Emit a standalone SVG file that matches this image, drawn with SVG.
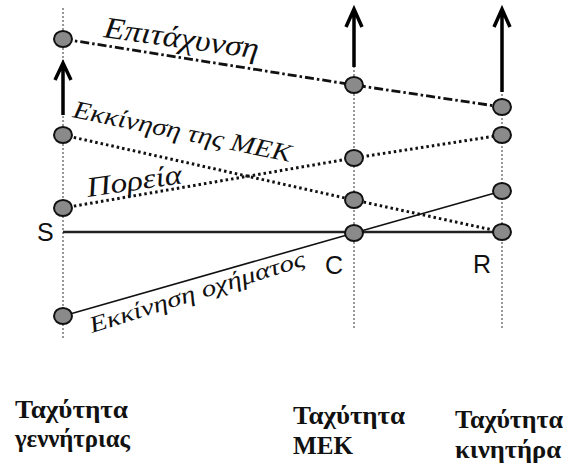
<svg xmlns="http://www.w3.org/2000/svg" width="568" height="466" viewBox="0 0 568 466">
<style>
.guide{stroke:#777;stroke-width:1.5;stroke-dasharray:2 2;fill:none}
.dashdot{stroke:#111;stroke-width:2.8;stroke-dasharray:9 3 2.5 3;fill:none}
.dotted{stroke:#111;stroke-width:3;stroke-dasharray:2.5 3;fill:none}
.solid{stroke:#111;stroke-width:1.6;fill:none}
.axis{stroke:#222;stroke-width:2.6;fill:none}
.arrow{stroke:#000;stroke-width:3.5;fill:none;stroke-linejoin:miter}
.node{fill:#8a8a8a;stroke:#111;stroke-width:2}
.lbl{font-family:"Liberation Serif","DejaVu Serif",serif;font-style:italic;fill:#111}
.let{font-family:"Liberation Sans",Arial,sans-serif;font-size:25px;fill:#111}
.cap{font-family:"Liberation Serif","DejaVu Serif",serif;font-weight:bold;font-size:25px;fill:#111}
</style>
<g id="guides">
<line class="guide" x1="63" y1="8" x2="63" y2="340"/>
<line class="guide" x1="354" y1="66" x2="354" y2="330"/>
<line class="guide" x1="502" y1="90" x2="502" y2="330"/>
</g>
<g id="connectors">
<polyline class="dashdot" points="63,39 354,85 502,107"/>
<polyline class="dotted" points="63,135 354,200 502,232"/>
<polyline class="dotted" points="63,208 354,158 502,135"/>
<line class="axis" x1="63" y1="232" x2="502" y2="232"/>
<polyline class="solid" points="63,316 354,233 502,191"/>
<path class="arrow" d="M63,115 V64 M55,80 L63,63 L71,80"/>
<path class="arrow" d="M354,67 V10 M346,27 L354,9 L362,27"/>
<path class="arrow" d="M502,92 V10 M494,27 L502,9 L510,27"/>
</g>
<g id="left-nodes">
<ellipse class="node" cx="63" cy="39" rx="9" ry="8"/>
<ellipse class="node" cx="63" cy="135" rx="9" ry="8"/>
<ellipse class="node" cx="63" cy="208" rx="9" ry="8"/>
<ellipse class="node" cx="63" cy="316" rx="9" ry="8"/>
</g>
<g id="mid-nodes">
<ellipse class="node" cx="354" cy="85" rx="9" ry="8"/>
<ellipse class="node" cx="354" cy="158" rx="9" ry="8"/>
<ellipse class="node" cx="354" cy="200" rx="9" ry="8"/>
<ellipse class="node" cx="354" cy="233" rx="9" ry="8"/>
</g>
<g id="right-nodes">
<ellipse class="node" cx="502" cy="107" rx="9" ry="8"/>
<ellipse class="node" cx="502" cy="135" rx="9" ry="8"/>
<ellipse class="node" cx="502" cy="191" rx="9" ry="8"/>
<ellipse class="node" cx="502" cy="232" rx="9" ry="8"/>
</g>
<g id="line-labels">
<text class="lbl" transform="translate(103,37) rotate(8)" font-size="30" textLength="156" lengthAdjust="spacingAndGlyphs">Επιτάχυνση</text>
<text class="lbl" transform="translate(72,117) rotate(11.7)" font-size="25" textLength="222" lengthAdjust="spacingAndGlyphs">Εκκίνηση  της ΜΕΚ</text>
<text class="lbl" transform="translate(88,197) rotate(-8.3)" font-size="28" textLength="96" lengthAdjust="spacingAndGlyphs">Πορεία</text>
<text class="lbl" transform="translate(92,333) rotate(-17.5)" font-size="23" textLength="225" lengthAdjust="spacingAndGlyphs">Εκκίνηση  οχήματος</text>
</g>
<g id="points">
<text class="let" x="37" y="241">S</text>
<text class="let" x="325" y="274">C</text>
<text class="let" x="473" y="273">R</text>
</g>
<g id="axis-captions">
<text class="cap" x="15" y="418" textLength="113" lengthAdjust="spacingAndGlyphs">Ταχύτητα</text>
<text class="cap" x="15" y="447" textLength="115" lengthAdjust="spacingAndGlyphs">γεννήτριας</text>
<text class="cap" x="293" y="424" textLength="112" lengthAdjust="spacingAndGlyphs">Ταχύτητα</text>
<text class="cap" x="293" y="454" textLength="60" lengthAdjust="spacingAndGlyphs">ΜΕΚ</text>
<text class="cap" x="455" y="428" textLength="108" lengthAdjust="spacingAndGlyphs">Ταχύτητα</text>
<text class="cap" x="455" y="458" textLength="106" lengthAdjust="spacingAndGlyphs">κινητήρα</text>
</g>
</svg>
